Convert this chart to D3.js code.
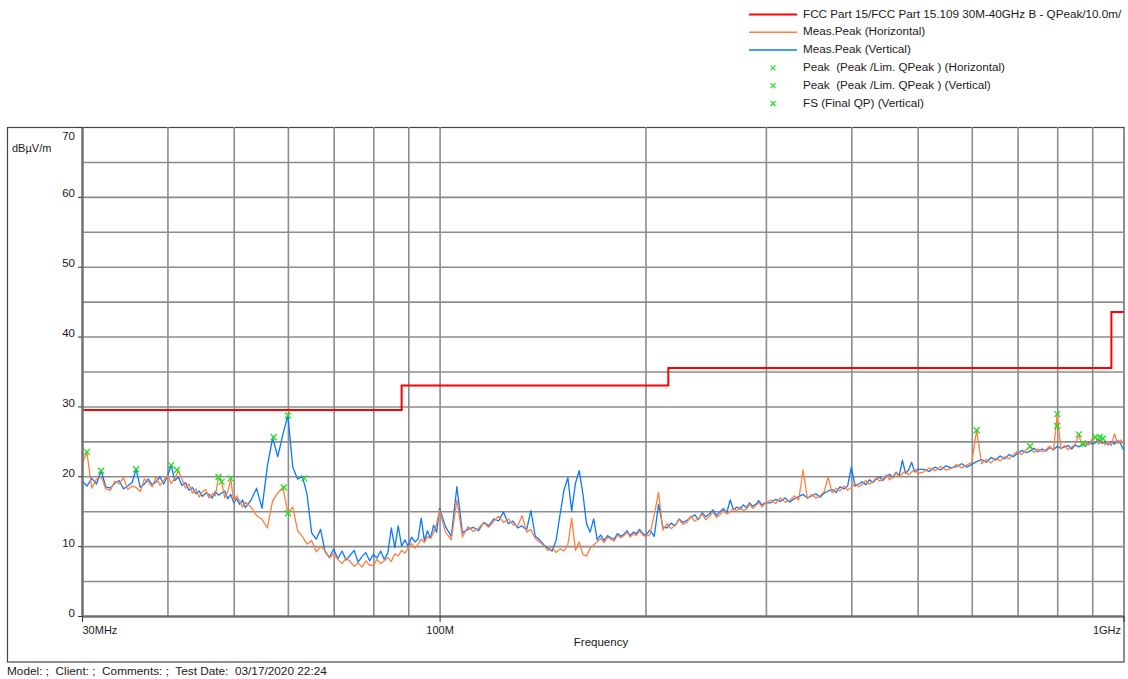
<!DOCTYPE html>
<html>
<head>
<meta charset="utf-8">
<script src="https://cdn.jsdelivr.net/npm/d3@7"></script>
<style>
body { margin: 0; background: #fff; }
svg { display: block; font-family: "Liberation Sans", Arial, sans-serif; }
</style>
</head>
<body>
<svg id="chart" width="1128" height="679"></svg>
<script>
// Sweep frequencies (MHz) shared by both measured traces
const freqMHz = [
  30, 30.5, 31, 31.5, 32, 32.5, 33, 33.5, 34, 34.5, 35, 35.5, 36, 36.5, 37, 37.5, 38, 38.5, 39, 39.5,
  40, 40.5, 41, 41.5, 42, 42.5, 43, 43.5, 44, 44.5, 45, 45.5, 46, 46.5, 47, 47.5, 48, 48.5, 49, 49.5,
  50, 50.5, 51, 51.5, 52,
  53, 54, 55, 56, 57, 58, 59, 60, 61, 62, 63, 64, 65, 66, 67, 68, 69, 70, 71, 72, 73, 74, 75, 76,
  77, 78, 79, 80, 81, 82, 83, 84, 85, 86, 87, 88, 89, 90, 91, 92, 93, 94, 95, 96, 97, 98, 99, 100,
  102, 104, 106, 108, 110, 112, 114, 116, 118, 120, 122, 124, 126, 128, 130, 132, 134, 136, 138, 140,
  142, 144, 146, 148, 150, 152, 154, 156, 158, 160, 162, 164, 166, 168, 170, 172, 174, 176, 178, 180,
  182, 184, 186, 188, 190, 192, 194, 196, 198, 200,
  203, 206, 209, 212, 215, 218, 221, 224, 227, 230, 233, 236, 239, 242, 245, 248, 251, 254, 257, 260,
  263, 266, 269, 272, 275, 278, 281, 284, 287, 290, 293, 296, 299,
  305, 310, 315, 320, 325, 330, 335, 340, 345, 350, 355, 360, 365, 370, 375, 380, 385, 390, 395, 400,
  405, 410, 415, 420, 425, 430, 435, 440, 445, 450, 455, 460, 465, 470, 475, 480, 485, 490, 495, 500,
  510, 520, 530, 540, 550, 560, 570, 580, 590, 600, 610, 620, 630, 640, 650, 660, 670, 680, 690, 700,
  710, 720, 730, 740, 750, 760, 770, 780, 790, 800, 810, 820, 830, 840, 850, 860, 870, 880, 890, 900,
  910, 920, 930, 940, 950, 960, 970, 980, 990, 1000
];

// Meas.Peak (Horizontal), dBuV/m
const levelHorizontal = [
  21.8, 23.4, 18.3, 19.6, 19.9, 18.2, 18.0, 19.3, 18.9, 19.8, 18.1, 18.6, 18.4, 17.8, 19.6, 19.2, 18.5, 19.9, 18.7, 19.4,
  20.1, 19.0, 19.7, 20.8, 19.6, 18.3, 18.9, 17.6, 18.2, 17.0, 17.8, 18.1, 16.9, 17.5, 17.2, 19.9, 19.2, 16.9, 17.8, 19.6,
  16.4, 17.2, 16.5, 15.6, 16.3,
  15.6, 14.4, 13.8, 12.6, 16.5, 17.6, 18.4, 14.7, 15.6, 12.2, 11.4, 10.3, 10.8, 9.2, 9.9, 9.4, 8.3, 8.9, 8.1, 7.5, 8.3, 7.8, 7.1, 7.6,
  7.0, 7.9, 7.3, 7.2, 8.1, 7.5, 7.9, 8.4, 7.8, 8.9, 8.6, 9.4, 9.0, 9.8, 10.4, 9.7, 10.3, 11.0, 10.5, 11.4, 11.1, 11.9, 13.2, 15.1,
  12.0, 10.9, 16.6, 11.3, 12.8, 12.1, 12.6, 13.3, 12.7, 13.6, 14.3, 13.4, 13.9, 13.1, 12.8, 14.4, 12.0, 12.4, 11.1, 10.6,
  10.1, 9.4, 9.9, 9.1, 9.6, 9.3, 10.2, 14.0, 9.4, 10.6, 8.8, 8.6, 9.7, 10.2, 10.6, 11.1, 10.5, 11.3, 11.0, 10.7,
  11.6, 11.2, 11.5, 12.0, 11.3, 11.8, 11.5, 12.2, 11.6, 11.4,
  11.6, 14.5, 17.7, 12.3, 13.2, 12.5, 13.0, 13.8, 13.1, 13.4, 14.3, 13.6, 13.9, 14.6, 13.8, 14.2, 14.9, 14.1, 14.5, 15.2,
  14.6, 14.9, 15.4, 15.0, 15.6, 15.1, 15.3, 16.0, 15.4, 15.8, 16.3, 15.6, 16.1,
  16.6, 16.1, 16.9, 16.3, 16.5, 17.2, 16.6, 20.9, 16.8, 17.4, 16.9, 17.2, 17.8, 19.9, 17.6, 18.3, 17.9, 18.6, 18.0, 18.4,
  19.0, 18.5, 18.8, 19.4, 18.9, 19.2, 19.8, 19.3, 19.6, 20.2, 19.5, 20.0, 20.5, 19.9, 20.4, 20.8, 20.2, 20.6, 21.0, 20.4,
  20.6, 21.2, 20.8, 21.4, 20.9, 21.1, 21.7, 21.2, 21.6, 22.0, 26.6, 21.8, 22.4, 21.9, 22.6, 22.2, 22.8, 22.5, 23.1, 23.6,
  23.1, 23.8, 24.2, 23.4, 23.9, 23.5, 23.8, 24.3, 23.7, 28.9, 23.9, 24.4, 23.8, 24.2, 24.6, 26.0, 24.3, 24.8, 24.5, 25.4,
  25.6, 24.6, 25.1, 24.5, 25.0, 24.4, 26.1, 24.7, 25.2, 24.6
];

// Meas.Peak (Vertical), dBuV/m
const levelVertical = [
  19.4, 18.6, 19.7, 18.9, 20.8, 18.5, 18.3, 19.0, 19.4, 18.2, 18.6, 19.1, 21.0, 18.4, 18.9, 19.6, 18.8, 19.2, 19.9, 18.9,
  20.0, 21.6, 19.4, 19.9, 18.7, 19.1, 18.0, 18.4, 17.5, 17.9, 17.1, 17.6, 17.4, 16.9, 17.8, 17.3, 17.6, 17.9, 16.8, 17.4,
  16.2, 16.8, 16.0, 16.6, 15.5,
  16.6, 18.3, 15.4, 21.5, 25.5, 22.8, 26.0, 28.7, 21.3, 19.6, 20.0, 17.4, 11.9, 11.0, 12.4, 9.2, 8.4, 9.6, 8.2, 9.3, 8.0, 8.7, 9.4, 7.7,
  8.5, 9.1, 7.9, 8.8, 8.3, 9.3, 8.1, 9.0, 12.6, 9.8, 12.9, 10.0, 10.9, 9.9, 11.3, 10.6, 11.0, 14.0, 10.8, 12.2, 11.1, 13.0, 12.0, 15.4,
  12.8, 11.4, 18.5, 11.9, 12.4, 12.7, 12.2, 13.4, 12.9, 13.9, 13.6, 14.9, 13.2, 13.6, 12.6, 12.9, 12.3, 15.1, 11.4, 10.9,
  10.2, 9.7, 9.3, 10.8, 14.5, 18.0, 19.8, 15.0, 19.0, 20.8, 17.5, 13.2, 12.0, 13.9, 10.9, 11.6, 10.8, 11.5, 11.2, 11.0,
  11.8, 11.4, 11.7, 12.2, 11.5, 12.0, 11.8, 12.4, 11.9, 11.5,
  12.3, 11.4, 16.0, 12.8, 12.6, 13.3, 12.9, 13.9, 13.4, 13.7, 14.1, 14.5, 13.8, 14.8, 14.2, 14.6, 15.2, 14.4, 14.9, 15.4,
  14.8, 16.6, 15.2, 15.6, 15.3, 15.9, 15.5, 16.2, 15.7, 16.0, 16.5, 15.9, 16.2,
  16.2, 16.7, 16.4, 16.9, 16.3, 16.8, 17.1, 17.4, 16.9, 17.2, 17.5, 17.0, 17.6, 17.9, 18.1, 17.7, 18.5, 18.2, 18.6, 21.3,
  18.6, 18.9, 19.2, 18.8, 19.5, 19.1, 19.6, 19.9, 19.4, 20.0, 20.3, 19.8, 20.6, 20.1, 22.3, 20.4, 20.9, 22.0, 20.6, 21.0,
  21.0, 20.7, 21.3, 20.9, 21.5, 21.2, 21.4, 21.8, 21.3, 21.7, 22.1, 22.4, 22.0, 22.7, 22.3, 22.9, 22.5, 23.1, 22.8, 23.3,
  23.7, 23.4, 23.6, 24.0, 23.5, 23.9, 23.6, 24.1, 23.8, 24.3, 24.0, 24.2, 24.4, 23.9, 24.5, 24.2, 24.6, 24.3, 24.9, 24.6,
  24.8, 25.3, 24.7, 24.9, 24.5, 25.0, 24.6, 25.1, 24.7, 23.8
];

// FCC Part 15.109 class B limit at 10 m (step after each frequency)
const limitFreqMHz = [30, 88, 216, 960, 1000];
const limitLevel = [29.5, 33.0, 35.5, 43.5, 43.5];

// Peak / final markers
const peakFreqMHz = [30.5, 32, 36, 40.5, 41.3, 47.5, 48, 49.5, 57.2, 60, 59.2, 60, 63.4, 610, 730, 800, 800, 860, 873, 910, 923, 933];
const peakLevel = [23.5, 20.8, 21.0, 21.6, 20.9, 19.9, 19.2, 19.7, 25.6, 28.7, 18.4, 14.7, 19.7, 26.6, 24.3, 28.9, 27.2, 26.0, 24.7, 25.6, 25.6, 25.4];

// Axis ticks and grid
const yTicks = [0, 10, 20, 30, 40, 50, 60, 70];
const yGrid = [5, 10, 15, 20, 25, 30, 35, 40, 45, 50, 55, 60, 65];
const xTickValues = [30, 100, 1000];
const xTickLabels = ["30MHz", "100M", "1GHz"];
const xGrid = [40, 50, 60, 70, 80, 90, 100, 200, 300, 400, 500, 600, 700, 800, 900];

const legendLabels = [
  "FCC Part 15/FCC Part 15.109 30M-40GHz B - QPeak/10.0m/",
  "Meas.Peak (Horizontal)",
  "Meas.Peak (Vertical)",
  "Peak  (Peak /Lim. QPeak ) (Horizontal)",
  "Peak  (Peak /Lim. QPeak ) (Vertical)",
  "FS (Final QP) (Vertical)"
];

const colRed = "#ff0000", colOrange = "#ff8040", colBlue = "#0a78ff", colGreen = "#1ee01e";
const gridColor = "#8c8c8c", axisColor = "#707070", textColor = "#1a1a1a";

const plot = {left: 82, right: 1123.5, top: 127, bottom: 616};

const svg = d3.select("#chart");

const x = d3.scaleLog().domain([30, 1000]).range([plot.left, plot.right]);
const y = d3.scaleLinear().domain([0, 70]).range([plot.bottom, plot.top]);

// outer frame
svg.append("rect")
  .attr("x", 7.5).attr("y", 127.5)
  .attr("width", 1116.5).attr("height", 534.5)
  .attr("fill", "none").attr("stroke", "#444").attr("stroke-width", 1.2);

// grid lines
svg.append("g")
  .attr("transform", `translate(0, ${plot.bottom})`)
  .call(d3.axisBottom(x).tickValues(xGrid).tickFormat("").tickSize(-(plot.bottom - plot.top)).tickSizeOuter(0))
  .call(g => g.select(".domain").remove())
  .selectAll("line").attr("stroke", gridColor).attr("stroke-width", 1.6);

svg.append("g")
  .attr("transform", `translate(${plot.left}, 0)`)
  .call(d3.axisLeft(y).tickValues(yGrid).tickFormat("").tickSize(-(plot.right - plot.left)).tickSizeOuter(0))
  .call(g => g.select(".domain").remove())
  .selectAll("line").attr("stroke", gridColor).attr("stroke-width", 1.6);

// traces
const traceLine = d3.line()
  .x(d => x(d[0]))
  .y(d => y(d[1]));

svg.append("path")
  .datum(freqMHz.map((f, i) => [f, levelVertical[i]]))
  .attr("fill", "none").attr("stroke", colBlue).attr("stroke-width", 1.3)
  .attr("stroke-linejoin", "round")
  .attr("d", traceLine);

svg.append("path")
  .datum(freqMHz.map((f, i) => [f, levelHorizontal[i]]))
  .attr("fill", "none").attr("stroke", colOrange).attr("stroke-width", 1.3)
  .attr("stroke-linejoin", "round")
  .attr("d", traceLine);

// limit line
svg.append("path")
  .datum(limitFreqMHz.map((f, i) => [f, limitLevel[i]]))
  .attr("fill", "none").attr("stroke", colRed).attr("stroke-width", 2)
  .attr("d", traceLine.curve(d3.curveStepAfter));

// markers
const xMark = "M-3,-3L3,3M-3,3L3,-3";
svg.append("g").selectAll("path")
  .data(peakFreqMHz)
  .enter()
  .append("path")
  .attr("transform", (d, i) => `translate(${x(d)}, ${y(peakLevel[i])})`)
  .attr("d", xMark)
  .attr("stroke", colGreen).attr("stroke-width", 1.3);

// axes
const yAxisG = svg.append("g")
  .attr("transform", `translate(${plot.left}, 0)`)
  .call(d3.axisLeft(y).tickValues(yTicks).tickSize(4).tickSizeOuter(0).tickPadding(3));
yAxisG.select(".domain").attr("stroke", axisColor).attr("stroke-width", 2.5);
yAxisG.selectAll("line").attr("stroke", "#333");
yAxisG.selectAll("text")
  .attr("dy", d => d === 70 ? "1.05em" : "0")
  .attr("fill", textColor)
  .style("font-size", "11.5px")
  .style("font-family", "'Liberation Sans', Arial, sans-serif");

const xAxisG = svg.append("g")
  .attr("transform", `translate(0, ${plot.bottom})`)
  .call(d3.axisBottom(x).tickValues(xTickValues).tickFormat((d, i) => xTickLabels[i]).tickSize(6).tickSizeOuter(0).tickPadding(4));
xAxisG.select(".domain").attr("stroke", axisColor).attr("stroke-width", 2.5);
xAxisG.selectAll("line").attr("stroke", "#333");
xAxisG.selectAll("text")
  .attr("fill", textColor)
  .style("font-size", "11px")
  .style("font-family", "'Liberation Sans', Arial, sans-serif")
  .attr("text-anchor", (d, i) => i === 0 ? "start" : (i === xTickValues.length - 1 ? "end" : "middle"))
  .attr("dx", (d, i) => i === xTickValues.length - 1 ? -3 : 0);

// axis titles
svg.append("text")
  .attr("x", 12).attr("y", 152)
  .attr("fill", textColor).style("font-size", "11px")
  .text("dBµV/m");

svg.append("text")
  .attr("x", 601).attr("y", 646)
  .attr("text-anchor", "middle")
  .attr("fill", textColor).style("font-size", "11.5px")
  .text("Frequency");

svg.append("text")
  .attr("x", 7).attr("y", 675)
  .attr("fill", textColor).style("font-size", "11.8px")
  .style("white-space", "pre")
  .text("Model: ;  Client: ;  Comments: ;  Test Date:  03/17/2020 22:24");

// legend
const legendTop = 17.5, legendStep = 17.8;
const legend = svg.append("g");
legendLabels.forEach((label, i) => {
  const by = legendTop + i * legendStep;
  if (i < 3) {
    legend.append("line")
      .attr("x1", 749).attr("x2", 797)
      .attr("y1", by - 3).attr("y2", by - 3)
      .attr("stroke", [colRed, colOrange, colBlue][i])
      .attr("stroke-width", i === 0 ? 2 : 1.5);
  } else {
    legend.append("path")
      .attr("transform", `translate(773, ${by - 3})`)
      .attr("d", "M-2.5,-2.5L2.5,2.5M-2.5,2.5L2.5,-2.5")
      .attr("stroke", colGreen).attr("stroke-width", 1.2);
  }
  legend.append("text")
    .attr("x", 803).attr("y", by)
    .attr("fill", textColor).style("font-size", "11.7px")
    .style("white-space", "pre")
    .text(label);
});
</script>
</body>
</html>
